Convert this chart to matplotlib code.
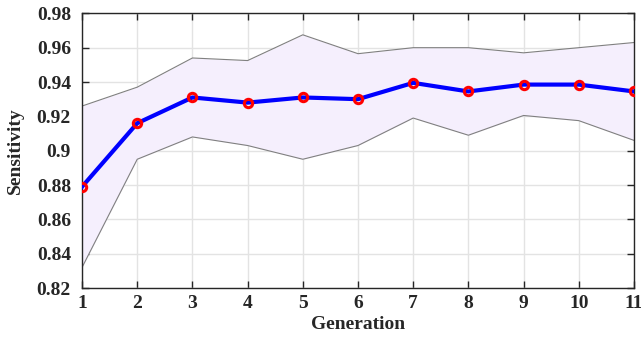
import matplotlib
matplotlib.use('Agg')
import matplotlib.pyplot as plt

# data
generation = [1, 2, 3, 4, 5, 6, 7, 8, 9, 10, 11]
sens_mean = [0.879, 0.916, 0.931, 0.928, 0.931, 0.930, 0.9395, 0.9345, 0.9385, 0.9385, 0.9345]
sens_upper = [0.926, 0.937, 0.954, 0.9525, 0.9675, 0.9565, 0.960, 0.960, 0.957, 0.960, 0.963]
sens_lower = [0.832, 0.895, 0.908, 0.903, 0.895, 0.903, 0.919, 0.909, 0.9205, 0.9175, 0.906]
xticks = list(range(1, 12))
yticks = [0.82, 0.84, 0.86, 0.88, 0.90, 0.92, 0.94, 0.96, 0.98]
ytick_labels = ['0.82', '0.84', '0.86', '0.88', '0.9', '0.92', '0.94', '0.96', '0.98']

plt.rcParams['font.family'] = ['Liberation Serif', 'DejaVu Serif']
plt.rcParams['font.weight'] = 'bold'

fig = plt.figure(figsize=(6.41, 3.37), dpi=100)
ax = fig.add_axes([0.128, 0.1454, 0.861, 0.815])

ax.fill_between(generation, sens_lower, sens_upper, color='#f5effd', lw=0, zorder=1)
ax.plot(generation, sens_upper, color='#808080', lw=0.8, zorder=2)
ax.plot(generation, sens_lower, color='#808080', lw=0.8, zorder=2)
ax.plot(generation, sens_mean, color='#0000ff', lw=3, zorder=3,
        marker='o', ms=6, mfc='none', mec='#ff0000', mew=2.2)

ax.set_xlim(1, 11)
ax.set_ylim(0.82, 0.98)
ax.set_xticks(xticks)
ax.set_yticks(yticks)
ax.set_yticklabels(ytick_labels)
ax.grid(True, color='#e3e3e3', lw=1, zorder=0)
ax.set_axisbelow(True)
ax.tick_params(direction='in', top=True, right=True, length=5, width=1,
               labelsize=14, colors='#262626')
ax.tick_params(axis='x', pad=5)
ax.tick_params(axis='y', pad=8)
for lab in ax.get_xticklabels() + ax.get_yticklabels():
    lab.set_fontweight('bold')
for sp in ax.spines.values():
    sp.set_color('#262626')
    sp.set_linewidth(1)

ax.set_xlabel('Generation', fontsize=14, fontweight='bold', color='#262626', labelpad=3)
ax.set_ylabel('Sensitivity', fontsize=14, fontweight='bold', color='#262626', labelpad=9)

fig.savefig('out.png', dpi=100)
